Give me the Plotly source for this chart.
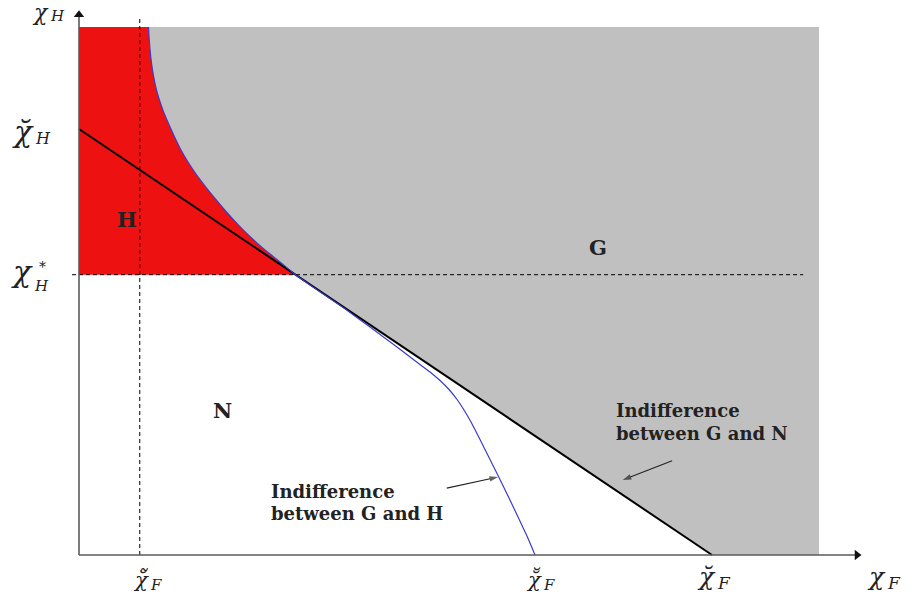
import plotly.graph_objects as go

# Axis levels (normalised units: chi_F_breve = chi_H_breve = 1)
chi_H_breve = 1.0
chi_H_star = 0.658
chi_F_breve = 1.0
chi_F_dbl_breve = 0.7204
chi_F_tilde = 0.096
tangent_x = 0.342

# Extent of the drawn regions and axes
region_top = 1.2394
region_right = 1.169
axis_x_end = 1.229
axis_y_end = 1.268

# Indifference curve between G and H (from the top edge down to the chi_F axis)
curve_x = [0.1098, 0.1106, 0.1122, 0.1145, 0.1177, 0.1216, 0.1264, 0.1327, 0.1390,
           0.1438, 0.1517, 0.1611, 0.1722, 0.1848, 0.1991, 0.2148, 0.2322, 0.2512,
           0.2717, 0.2938, 0.3175, 0.342,
           0.3807, 0.4202, 0.4597, 0.4992, 0.5308, 0.5545, 0.5703, 0.5845, 0.5972,
           0.6082, 0.6193, 0.6319, 0.6477, 0.6635, 0.6793, 0.6951, 0.7077, 0.7204]
curve_y = [1.2394, 1.2171, 1.1866, 1.1549, 1.1244, 1.0962, 1.0709, 1.0437, 1.0211,
           1.0047, 0.9789, 0.9507, 0.9225, 0.8944, 0.8662, 0.8369, 0.8063, 0.7756,
           0.7453, 0.7162, 0.6880, 0.658,
           0.6180, 0.5779, 0.5352, 0.4918, 0.4559, 0.4296, 0.4096, 0.3885, 0.3650,
           0.3404, 0.3122, 0.2758, 0.2289, 0.1819, 0.1338, 0.0845, 0.0446, 0.0]

# Indifference line between G and N
line_x = [0.0, chi_F_breve]
line_y = [chi_H_breve, 0.0]

# Pointer arrows (tail -> head)
arrow_GH_x = [0.581, 0.662]
arrow_GH_y = [0.157, 0.183]
arrow_GN_x = [0.937, 0.859]
arrow_GN_y = [0.221, 0.176]

k = curve_x.index(tangent_x)
upper_x, upper_y = curve_x[:k + 1], curve_y[:k + 1]

fig = go.Figure()
NOHOVER = dict(hoverinfo="skip", showlegend=False)

# G region (grey)
gx = upper_x + [chi_F_breve, region_right, region_right, upper_x[0]]
gy = upper_y + [0.0, 0.0, region_top, region_top]
fig.add_trace(go.Scatter(x=gx, y=gy, fill="toself", fillcolor="#c0c0c0",
                         mode="lines", line=dict(width=0), **NOHOVER))

# H region (red)
hx = [0.0, 0.0] + upper_x + [0.0]
hy = [chi_H_star, region_top] + upper_y + [chi_H_star]
fig.add_trace(go.Scatter(x=hx, y=hy, fill="toself", fillcolor="#ee1111",
                         mode="lines", line=dict(width=0), **NOHOVER))

# Dashed guides
fig.add_trace(go.Scatter(x=[-0.011, 1.144], y=[chi_H_star, chi_H_star], mode="lines",
                         line=dict(color="black", width=1, dash="4px,3px"), **NOHOVER))
fig.add_trace(go.Scatter(x=[chi_F_tilde, chi_F_tilde], y=[0.0, 1.263], mode="lines",
                         line=dict(color="black", width=1, dash="4px,3px"), **NOHOVER))

# Indifference line G/N
fig.add_trace(go.Scatter(x=line_x, y=line_y, mode="lines",
                         line=dict(color="black", width=2), **NOHOVER))

# Indifference curve G/H
fig.add_trace(go.Scatter(x=curve_x, y=curve_y, mode="lines",
                         line=dict(color="#3b3bc8", width=1.2, shape="spline", smoothing=0.5),
                         **NOHOVER))

# Coordinate axes with arrowheads
fig.add_trace(go.Scatter(x=[0, axis_x_end], y=[0, 0], mode="lines",
                         line=dict(color="#5a5a5a", width=1.6), **NOHOVER))
fig.add_trace(go.Scatter(x=[0, 0], y=[0, axis_y_end], mode="lines",
                         line=dict(color="#5a5a5a", width=1.6), **NOHOVER))
fig.add_trace(go.Scatter(x=[axis_x_end], y=[0], mode="markers",
                         marker=dict(symbol="triangle-right", size=9, color="#111111"), **NOHOVER))
fig.add_trace(go.Scatter(x=[0], y=[axis_y_end], mode="markers",
                         marker=dict(symbol="triangle-up", size=9, color="#111111"), **NOHOVER))

# Pointer arrows
for ax_, ay_ in [(arrow_GH_x, arrow_GH_y), (arrow_GN_x, arrow_GN_y)]:
    fig.add_trace(go.Scatter(x=ax_, y=ay_, mode="lines+markers",
                             line=dict(color="#222222", width=1.1),
                             marker=dict(symbol=["circle", "arrow"], size=[0, 9],
                                         angleref="previous", color="#222222",
                                         line=dict(width=0)),
                             **NOHOVER))

ann = []

MATH = "DejaVu Serif"


def label(x, y, text, dx, dy, size, family=MATH, style="normal", weight="normal",
          xanchor="center"):
    ann.append(dict(x=x, y=y, xref="x", yref="y", text=text, showarrow=False,
                    xshift=dx, yshift=dy, xanchor=xanchor, yanchor="middle", align="left",
                    borderpad=0,
                    font=dict(family=family, size=size, color="#222222",
                              style=style, weight=weight)))


def symbol(x, y, base, sub, dx, dy_base, dy_sub, size, sub_size):
    # base letter ends at dx, subscript starts there
    label(x, y, base, dx, dy_base, size, style="italic", xanchor="right")
    label(x, y, sub, dx - 1, dy_sub, sub_size, style="italic", xanchor="left")


BREVE = "\u0306"
TILDE = "\u0303"

# Vertical axis labels
symbol(0, axis_y_end, "χ", "H", -29, 2, -1, 22, 15)
symbol(0, chi_H_breve, "χ" + BREVE, "H", -44, -2.5, -9, 30, 16)
symbol(0, chi_H_star, "χ", "H", -45, 3, -11.3, 30, 15)
label(0, chi_H_star, "*", -37, 7.7, 14)

# Horizontal axis labels
symbol(chi_F_tilde, 0, "χ" + BREVE + TILDE, "F", 10, -24, -30, 21, 15)
symbol(chi_F_dbl_breve, 0, "χ" + BREVE + BREVE, "F", 8, -24, -30, 21, 15)
symbol(chi_F_breve, 0, "χ" + BREVE, "F", 5, -21.5, -28, 25, 17)
symbol(axis_x_end, 0, "χ", "F", 30, -21.5, -28, 25, 17)

# Region letters
label(0.076, 0.787, "H", 0, 0, 21, weight="bold")
label(0.820, 0.721, "G", 0, 0, 21, weight="bold")
label(0.226, 0.340, "N", 0, 0, 21, weight="bold")

# Curve descriptions
label(0.302, 0.150, "Indifference", 0, 0, 18, weight="bold", xanchor="left")
label(0.302, 0.098, "between G and H", 0, 0, 18, weight="bold", xanchor="left")
label(0.847, 0.340, "Indifference", 0, 0, 18, weight="bold", xanchor="left")
label(0.847, 0.286, "between G and N", 0, 0, 18, weight="bold", xanchor="left")

fig.update_layout(
    width=913, height=606,
    margin=dict(l=0, r=0, t=0, b=0),
    paper_bgcolor="white", plot_bgcolor="white",
    showlegend=False,
    xaxis=dict(range=[-0.1248, 1.3175], visible=False, fixedrange=True),
    yaxis=dict(range=[-0.1197, 1.3028], visible=False, fixedrange=True),
    annotations=ann,
)

fig.write_html("out.html")
